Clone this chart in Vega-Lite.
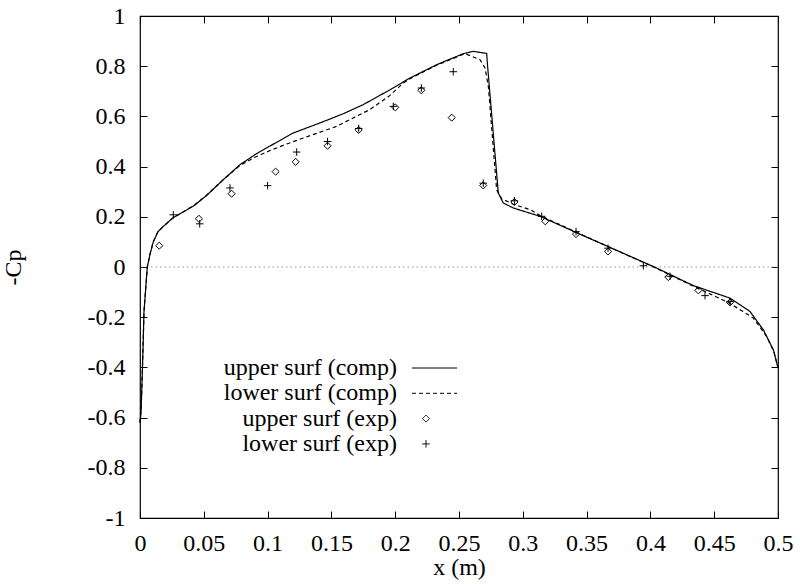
{
  "$schema": "https://vega.github.io/schema/vega-lite/v6.json",
  "width": 638,
  "height": 502,
  "autosize": "none",
  "padding": {"left": 140, "top": 16, "right": 22, "bottom": 66},
  "background": "white",
  "config": {
    "font": "Liberation Serif",
    "view": {"stroke": "black", "strokeWidth": 1.2},
    "axis": {
      "domain": false, "grid": false,
      "tickColor": "black", "tickSize": -7, "tickWidth": 1,
      "labelFont": "Liberation Serif", "labelFontSize": 24, "labelColor": "black",
      "titleFont": "Liberation Serif", "titleFontSize": 24, "titleFontWeight": "normal", "titleColor": "black"
    },
    "legend": {
      "labelFont": "Liberation Serif", "labelFontSize": 24, "labelColor": "black", "labelLimit": 0,
      "labelAlign": "right", "labelOffset": -41,
      "padding": 0, "rowPadding": 1.3,
      "symbolStrokeColor": "black", "symbolStrokeWidth": 1, "symbolFillColor": "transparent"
    }
  },
  "datasets": {
    "curves": [
      {"x": 0.0, "cp": -0.62, "series": "upper surf (comp)"},
      {"x": 0.0008, "cp": -0.58, "series": "upper surf (comp)"},
      {"x": 0.002, "cp": -0.396, "series": "upper surf (comp)"},
      {"x": 0.0031, "cp": -0.18, "series": "upper surf (comp)"},
      {"x": 0.0057, "cp": 0.0, "series": "upper surf (comp)"},
      {"x": 0.0078, "cp": 0.05, "series": "upper surf (comp)"},
      {"x": 0.0104, "cp": 0.1, "series": "upper surf (comp)"},
      {"x": 0.014, "cp": 0.14, "series": "upper surf (comp)"},
      {"x": 0.0183, "cp": 0.162, "series": "upper surf (comp)"},
      {"x": 0.026, "cp": 0.197, "series": "upper surf (comp)"},
      {"x": 0.034, "cp": 0.22, "series": "upper surf (comp)"},
      {"x": 0.0425, "cp": 0.245, "series": "upper surf (comp)"},
      {"x": 0.0522, "cp": 0.285, "series": "upper surf (comp)"},
      {"x": 0.0653, "cp": 0.348, "series": "upper surf (comp)"},
      {"x": 0.0784, "cp": 0.408, "series": "upper surf (comp)"},
      {"x": 0.0915, "cp": 0.452, "series": "upper surf (comp)"},
      {"x": 0.1019, "cp": 0.482, "series": "upper surf (comp)"},
      {"x": 0.1201, "cp": 0.534, "series": "upper surf (comp)"},
      {"x": 0.1411, "cp": 0.574, "series": "upper surf (comp)"},
      {"x": 0.16, "cp": 0.612, "series": "upper surf (comp)"},
      {"x": 0.175, "cp": 0.647, "series": "upper surf (comp)"},
      {"x": 0.1959, "cp": 0.706, "series": "upper surf (comp)"},
      {"x": 0.2116, "cp": 0.753, "series": "upper surf (comp)"},
      {"x": 0.2325, "cp": 0.806, "series": "upper surf (comp)"},
      {"x": 0.2534, "cp": 0.85, "series": "upper surf (comp)"},
      {"x": 0.2612, "cp": 0.859, "series": "upper surf (comp)"},
      {"x": 0.2717, "cp": 0.851, "series": "upper surf (comp)"},
      {"x": 0.2722, "cp": 0.813, "series": "upper surf (comp)"},
      {"x": 0.2808, "cp": 0.295, "series": "upper surf (comp)"},
      {"x": 0.2847, "cp": 0.255, "series": "upper surf (comp)"},
      {"x": 0.2926, "cp": 0.235, "series": "upper surf (comp)"},
      {"x": 0.3135, "cp": 0.202, "series": "upper surf (comp)"},
      {"x": 0.35, "cp": 0.119, "series": "upper surf (comp)"},
      {"x": 0.4023, "cp": 0.002, "series": "upper surf (comp)"},
      {"x": 0.4336, "cp": -0.074, "series": "upper surf (comp)"},
      {"x": 0.4624, "cp": -0.124, "series": "upper surf (comp)"},
      {"x": 0.478, "cp": -0.177, "series": "upper surf (comp)"},
      {"x": 0.4885, "cp": -0.25, "series": "upper surf (comp)"},
      {"x": 0.4963, "cp": -0.329, "series": "upper surf (comp)"},
      {"x": 0.5, "cp": -0.402, "series": "upper surf (comp)"},
      {"x": 0.0, "cp": -0.62, "series": "lower surf (comp)"},
      {"x": 0.001, "cp": -0.55, "series": "lower surf (comp)"},
      {"x": 0.002, "cp": -0.38, "series": "lower surf (comp)"},
      {"x": 0.0032, "cp": -0.17, "series": "lower surf (comp)"},
      {"x": 0.0058, "cp": 0.0, "series": "lower surf (comp)"},
      {"x": 0.008, "cp": 0.055, "series": "lower surf (comp)"},
      {"x": 0.0105, "cp": 0.102, "series": "lower surf (comp)"},
      {"x": 0.014, "cp": 0.14, "series": "lower surf (comp)"},
      {"x": 0.0183, "cp": 0.162, "series": "lower surf (comp)"},
      {"x": 0.026, "cp": 0.196, "series": "lower surf (comp)"},
      {"x": 0.034, "cp": 0.22, "series": "lower surf (comp)"},
      {"x": 0.0425, "cp": 0.246, "series": "lower surf (comp)"},
      {"x": 0.0522, "cp": 0.286, "series": "lower surf (comp)"},
      {"x": 0.0653, "cp": 0.348, "series": "lower surf (comp)"},
      {"x": 0.0784, "cp": 0.405, "series": "lower surf (comp)"},
      {"x": 0.09, "cp": 0.437, "series": "lower surf (comp)"},
      {"x": 0.1019, "cp": 0.464, "series": "lower surf (comp)"},
      {"x": 0.115, "cp": 0.49, "series": "lower surf (comp)"},
      {"x": 0.128, "cp": 0.514, "series": "lower surf (comp)"},
      {"x": 0.154, "cp": 0.56, "series": "lower surf (comp)"},
      {"x": 0.18, "cp": 0.627, "series": "lower surf (comp)"},
      {"x": 0.195, "cp": 0.68, "series": "lower surf (comp)"},
      {"x": 0.2064, "cp": 0.733, "series": "lower surf (comp)"},
      {"x": 0.2116, "cp": 0.75, "series": "lower surf (comp)"},
      {"x": 0.2325, "cp": 0.804, "series": "lower surf (comp)"},
      {"x": 0.2547, "cp": 0.85, "series": "lower surf (comp)"},
      {"x": 0.2665, "cp": 0.826, "series": "lower surf (comp)"},
      {"x": 0.2704, "cp": 0.793, "series": "lower surf (comp)"},
      {"x": 0.273, "cp": 0.72, "series": "lower surf (comp)"},
      {"x": 0.2795, "cp": 0.308, "series": "lower surf (comp)"},
      {"x": 0.2834, "cp": 0.272, "series": "lower surf (comp)"},
      {"x": 0.2926, "cp": 0.25, "series": "lower surf (comp)"},
      {"x": 0.306, "cp": 0.228, "series": "lower surf (comp)"},
      {"x": 0.3135, "cp": 0.205, "series": "lower surf (comp)"},
      {"x": 0.35, "cp": 0.12, "series": "lower surf (comp)"},
      {"x": 0.4023, "cp": 0.0, "series": "lower surf (comp)"},
      {"x": 0.4336, "cp": -0.076, "series": "lower surf (comp)"},
      {"x": 0.4624, "cp": -0.145, "series": "lower surf (comp)"},
      {"x": 0.4806, "cp": -0.203, "series": "lower surf (comp)"},
      {"x": 0.491, "cp": -0.276, "series": "lower surf (comp)"},
      {"x": 0.497, "cp": -0.34, "series": "lower surf (comp)"},
      {"x": 0.5, "cp": -0.402, "series": "lower surf (comp)"}
    ],
    "exp": [
      {"x": 0.0151, "cp": 0.085, "series": "upper surf (exp)"},
      {"x": 0.0462, "cp": 0.192, "series": "upper surf (exp)"},
      {"x": 0.0718, "cp": 0.292, "series": "upper surf (exp)"},
      {"x": 0.1063, "cp": 0.38, "series": "upper surf (exp)"},
      {"x": 0.122, "cp": 0.419, "series": "upper surf (exp)"},
      {"x": 0.147, "cp": 0.483, "series": "upper surf (exp)"},
      {"x": 0.1714, "cp": 0.546, "series": "upper surf (exp)"},
      {"x": 0.2001, "cp": 0.636, "series": "upper surf (exp)"},
      {"x": 0.2205, "cp": 0.704, "series": "upper surf (exp)"},
      {"x": 0.2443, "cp": 0.595, "series": "upper surf (exp)"},
      {"x": 0.269, "cp": 0.325, "series": "upper surf (exp)"},
      {"x": 0.2934, "cp": 0.259, "series": "upper surf (exp)"},
      {"x": 0.3176, "cp": 0.182, "series": "upper surf (exp)"},
      {"x": 0.3417, "cp": 0.131, "series": "upper surf (exp)"},
      {"x": 0.3668, "cp": 0.062, "series": "upper surf (exp)"},
      {"x": 0.414, "cp": -0.04, "series": "upper surf (exp)"},
      {"x": 0.4376, "cp": -0.093, "series": "upper surf (exp)"},
      {"x": 0.4624, "cp": -0.141, "series": "upper surf (exp)"},
      {"x": 0.0261, "cp": 0.208, "series": "lower surf (exp)"},
      {"x": 0.0468, "cp": 0.172, "series": "lower surf (exp)"},
      {"x": 0.0705, "cp": 0.315, "series": "lower surf (exp)"},
      {"x": 0.1, "cp": 0.324, "series": "lower surf (exp)"},
      {"x": 0.1228, "cp": 0.458, "series": "lower surf (exp)"},
      {"x": 0.147, "cp": 0.5, "series": "lower surf (exp)"},
      {"x": 0.1714, "cp": 0.552, "series": "lower surf (exp)"},
      {"x": 0.1985, "cp": 0.64, "series": "lower surf (exp)"},
      {"x": 0.2205, "cp": 0.713, "series": "lower surf (exp)"},
      {"x": 0.2455, "cp": 0.778, "series": "lower surf (exp)"},
      {"x": 0.269, "cp": 0.334, "series": "lower surf (exp)"},
      {"x": 0.2934, "cp": 0.264, "series": "lower surf (exp)"},
      {"x": 0.3148, "cp": 0.202, "series": "lower surf (exp)"},
      {"x": 0.3417, "cp": 0.141, "series": "lower surf (exp)"},
      {"x": 0.3668, "cp": 0.075, "series": "lower surf (exp)"},
      {"x": 0.3945, "cp": 0.005, "series": "lower surf (exp)"},
      {"x": 0.4154, "cp": -0.037, "series": "lower surf (exp)"},
      {"x": 0.4428, "cp": -0.114, "series": "lower surf (exp)"},
      {"x": 0.4624, "cp": -0.138, "series": "lower surf (exp)"}
    ],
    "zero": [{"v": 0}]
  },
  "layer": [
    {
      "data": {"name": "zero"},
      "mark": {"type": "rule", "color": "#999999", "strokeDash": [1.5, 3], "strokeWidth": 1},
      "encoding": {
        "y": {"field": "v", "type": "quantitative", "scale": {"domain": [-1, 1], "nice": false}, "axis": null}
      }
    },
    {
      "data": {"name": "curves"},
      "mark": {"type": "line", "color": "black", "strokeWidth": 1.2},
      "encoding": {
        "x": {"field": "x", "type": "quantitative", "scale": {"domain": [0, 0.5], "nice": false},
              "axis": {"orient": "bottom", "values": [0, 0.05, 0.1, 0.15, 0.2, 0.25, 0.3, 0.35, 0.4, 0.45, 0.5],
                       "labelExpr": "datum.value + ''", "title": "x (m)", "labelPadding": 20, "titlePadding": 0, "labelFlush": false}},
        "y": {"field": "cp", "type": "quantitative", "scale": {"domain": [-1, 1], "nice": false},
              "axis": {"orient": "left", "values": [-1, -0.8, -0.6, -0.4, -0.2, 0, 0.2, 0.4, 0.6, 0.8, 1],
                       "labelExpr": "datum.value + ''", "title": "-Cp", "labelPadding": 22, "titlePadding": 62, "labelFlush": false}},
        "detail": {"field": "series"},
        "strokeDash": {"field": "series", "type": "nominal",
                       "scale": {"domain": ["upper surf (comp)", "lower surf (comp)", "upper surf (exp)", "lower surf (exp)"],
                                 "range": [[1, 0], [4, 3], [1, 0], [1, 0]]}}
      }
    },
    {
      "data": {"name": "exp"},
      "mark": {"type": "point", "filled": false, "color": "black", "strokeWidth": 1, "opacity": 1},
      "encoding": {
        "x": {"field": "x", "type": "quantitative", "axis": null},
        "y": {"field": "cp", "type": "quantitative", "axis": null},
        "size": {"field": "series", "type": "nominal",
                 "scale": {"type": "ordinal", "domain": ["upper surf (comp)", "lower surf (comp)", "upper surf (exp)", "lower surf (exp)"],
                           "range": [144, 144, 50, 56]}},
        "shape": {"field": "series", "type": "nominal",
                  "scale": {"domain": ["upper surf (comp)", "lower surf (comp)", "upper surf (exp)", "lower surf (exp)"],
                            "range": ["M-2.333,0H5.167", "M-2.333,0H5.167", "diamond", "M-1,0H1M0,-1V1"]},
                  "legend": {"title": null, "orient": "none", "legendX": 274, "legendY": 340}}
      }
    },
    {
      "data": {"name": "exp"},
      "mark": {"type": "point", "opacity": 0},
      "encoding": {
        "x": {"field": "x", "type": "quantitative",
              "axis": {"orient": "top", "values": [0, 0.05, 0.1, 0.15, 0.2, 0.25, 0.3, 0.35, 0.4, 0.45, 0.5], "labels": false, "title": null}},
        "y": {"field": "cp", "type": "quantitative",
              "axis": {"orient": "right", "values": [-1, -0.8, -0.6, -0.4, -0.2, 0, 0.2, 0.4, 0.6, 0.8, 1], "labels": false, "title": null}}
      }
    }
  ],
  "resolve": {"axis": {"x": "independent", "y": "independent"}}
}
